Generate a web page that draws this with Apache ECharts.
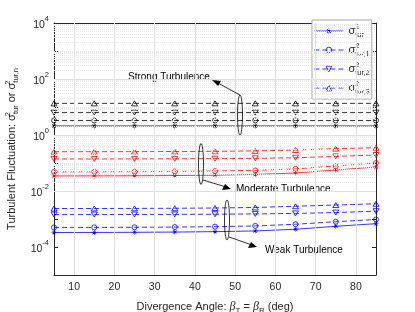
<!DOCTYPE html>
<html><head><meta charset="utf-8">
<script src="https://cdn.jsdelivr.net/npm/echarts@6/dist/echarts.min.js"></script>
<style>html,body{margin:0;padding:0;background:#fff}#c{width:415px;height:312px}</style>
</head><body><div id="c"></div>
<script>
// ---- data ----
const angles = [5, 15, 25, 35, 45, 55, 65, 75, 85];
const xTickValues = [10, 20, 30, 40, 50, 60, 70, 80];
const yLabelExponents = [-4, -2, 0, 2, 4];

const weakTur  = [3.30e-4, 3.31e-4, 3.35e-4, 3.42e-4, 3.53e-4, 3.75e-4, 4.30e-4, 5.50e-4, 6.80e-4];
const weakTur1 = [5.00e-4, 5.00e-4, 5.06e-4, 5.16e-4, 5.32e-4, 5.65e-4, 6.50e-4, 8.00e-4, 9.60e-4];
const weakTur2 = [1.44e-3, 1.44e-3, 1.45e-3, 1.46e-3, 1.48e-3, 1.52e-3, 1.58e-3, 1.70e-3, 1.90e-3];
const weakTur3 = [2.37e-3, 2.37e-3, 2.39e-3, 2.42e-3, 2.47e-3, 2.58e-3, 2.85e-3, 3.15e-3, 3.50e-3];

const modTur  = [0.0345, 0.0346, 0.0350, 0.0357, 0.0368, 0.0390, 0.0440, 0.0560, 0.0720];
const modTur1 = [0.0483, 0.0484, 0.0490, 0.0500, 0.0515, 0.0546, 0.0616, 0.0784, 0.1000];
const modTur2 = [0.139, 0.139, 0.140, 0.141, 0.143, 0.147, 0.154, 0.172, 0.193];
const modTur3 = [0.253, 0.253, 0.255, 0.257, 0.261, 0.270, 0.291, 0.325, 0.352];

const strongTur  = [2.1, 2.1, 2.1, 2.1, 2.1, 2.1, 2.1, 2.1, 2.1];
const strongTur1 = [3.3, 3.3, 3.3, 3.3, 3.3, 3.3, 3.3, 3.3, 3.3];
const strongTur2 = [6.3, 6.3, 6.3, 6.3, 6.3, 6.3, 6.3, 6.3, 6.3];
const strongTur3 = [13.5, 13.5, 13.5, 13.5, 13.5, 13.5, 13.5, 13.5, 13.5];

const legendSubs = ['tur', 'tur,1', 'tur,2', 'tur,3'];

// ---- style ----
const FONT = 'Liberation Sans, Arial, Helvetica, sans-serif';
const TXT = '#262626';
const CLEAR = 'rgba(255,255,255,0)';
const STAR = 'path://M4.5,0h1v10h-1z M0,4.5h10v1h-10z M1.1,1.8l0.7,-0.7l7.1,7.1l-0.7,0.7z M8.2,1.1l0.7,0.7l-7.1,7.1l-0.7,-0.7z';
const markers = [
  {symbol: STAR, size: 5, rotate: 0, dashed: false, hollow: false},
  {symbol: 'circle', size: 5, rotate: 0, dashed: true, hollow: true},
  {symbol: 'triangle', size: [6, 5], rotate: 180, dashed: true, hollow: true},
  {symbol: 'triangle', size: [6, 5], rotate: 0, dashed: true, hollow: true}
];

function pairs(vals) { return angles.map((a, i) => [a, vals[i]]); }

function itemStyleFor(color, m) {
  return m.hollow ? {color: CLEAR, borderColor: color, borderWidth: 0.8} : {color: color};
}

function mk(name, vals, color, m) {
  return {
    name: name, type: 'line', data: pairs(vals), z: 3,
    symbol: m.symbol, symbolSize: m.size, symbolRotate: m.rotate,
    showSymbol: true, animation: false,
    lineStyle: {color: color, width: 0.8, type: m.dashed ? [5, 3] : 'solid'},
    itemStyle: itemStyleFor(color, m),
    emphasis: {disabled: true}
  };
}

const series = [];
const groups = [
  {prefix: 'w', color: '#0000ff', sets: [weakTur, weakTur1, weakTur2, weakTur3]},
  {prefix: 'm', color: '#ff0000', sets: [modTur, modTur1, modTur2, modTur3]},
  {prefix: 's', color: '#000000', sets: [strongTur, strongTur1, strongTur2, strongTur3]}
];
groups.forEach(g => g.sets.forEach((s, i) => series.push(mk(g.prefix + i, s, g.color, markers[i]))));

// grid lines through markLine
const gridLines = [];
xTickValues.forEach(v => gridLines.push({xAxis: v, lineStyle: {color: '#e0e0e0', type: 'solid', width: 1}}));
for (let e = -5; e <= 4; e++) {
  if (e > -5 && e < 4) gridLines.push({yAxis: Math.pow(10, e), lineStyle: {color: (e % 2 === 0) ? '#e0e0e0' : '#e6e6e6', type: (e % 2 === 0) ? 'solid' : [1, 1], width: 1}});
  if (e < 4) for (let k = 2; k <= 9; k++) gridLines.push({yAxis: k * Math.pow(10, e), lineStyle: {color: '#e8e8e8', type: [1, 1], width: 1}});
}
series.unshift({
  name: 'grid', type: 'line', data: [], z: 1, silent: true, animation: false,
  markLine: {silent: true, symbol: ['none', 'none'], label: {show: false}, animation: false, data: gridLines, emphasis: {disabled: true}}
});

const yTickValues = [];
for (let e = -5; e <= 4; e++) yTickValues.push(Math.pow(10, e));
const yLabelValues = yLabelExponents.map(e => Math.pow(10, e));

const sigRich = {
  s: {fontSize: 11, fontFamily: FONT, color: TXT, lineHeight: 16, verticalAlign: 'middle'},
  p: {fontSize: 7.5, fontFamily: FONT, color: TXT, width: 0, lineHeight: 8, verticalAlign: 'top', align: 'left'},
  b: {fontSize: 7.5, fontFamily: FONT, color: TXT, lineHeight: 8, verticalAlign: 'bottom'}
};

const legendData = ['w0', 'w1', 'w2', 'w3'].map((n, i) => ({
  name: n,
  itemStyle: itemStyleFor('#0000ff', markers[i]),
  lineStyle: {color: '#0000ff', width: 0.8, type: markers[i].dashed ? [5, 3] : 'solid'}
}));

const option = {
  backgroundColor: '#ffffff',
  animation: false,
  grid: {left: 54, right: 39, top: 23, bottom: 37, containLabel: false, outerBoundsMode: 'none'},
  xAxis: [{
    type: 'value', min: 5, max: 85, position: 'bottom',
    axisLine: {show: true, onZero: false, lineStyle: {color: TXT, width: 1}},
    axisTick: {show: true, inside: true, length: 4, customValues: xTickValues, lineStyle: {color: TXT}},
    axisLabel: {show: true, customValues: xTickValues, color: TXT, fontSize: 10.5, fontFamily: FONT, margin: 7},
    splitLine: {show: false}, minorTick: {show: false}, minorSplitLine: {show: false},
    name: 'Divergence Angle: {i|β}{sb|T} = {i|β}{sb|R} (deg)',
    nameLocation: 'middle', nameGap: 24,
    nameTextStyle: {color: TXT, fontSize: 11, fontFamily: FONT, lineHeight: 16,
      rich: {i: {fontStyle: 'italic', fontFamily: 'Liberation Serif, serif', fontSize: 12, color: TXT, lineHeight: 16},
             sb: {fontSize: 8, fontFamily: FONT, color: TXT, verticalAlign: 'bottom', lineHeight: 8}}}
  }, {
    type: 'value', min: 5, max: 85, position: 'top',
    axisLine: {show: true, onZero: false, lineStyle: {color: TXT, width: 1}},
    axisTick: {show: true, inside: true, length: 4, customValues: xTickValues, lineStyle: {color: TXT}},
    axisLabel: {show: false}, splitLine: {show: false}
  }],
  yAxis: [{
    type: 'log', logBase: 10, min: 1e-5, max: 1e4, position: 'left',
    axisLine: {show: true, onZero: false, lineStyle: {color: TXT, width: 1}},
    axisTick: {show: true, inside: true, length: 4, customValues: yTickValues, lineStyle: {color: TXT}},
    axisLabel: {show: true, customValues: yLabelValues, margin: 5, color: TXT, fontFamily: FONT,
      formatter: function (v) { const e = Math.round(Math.log10(v)); return '{b|10}{e|' + e + '}'; },
      rich: {b: {fontSize: 10.5, fontFamily: FONT, color: TXT, lineHeight: 16, verticalAlign: 'bottom'},
             e: {fontSize: 7.5, fontFamily: FONT, color: TXT, lineHeight: 8, verticalAlign: 'top'}}},
    splitLine: {show: false}, minorTick: {show: false}, minorSplitLine: {show: false},
    name: 'Turbulent Fluctuation: {s|σ}{p|2}{b|tur} or {s|σ}{p|2}{b|tur,n}',
    nameLocation: 'middle', nameRotate: 90, nameGap: 19,
    nameTextStyle: {color: TXT, fontSize: 11, fontFamily: FONT, lineHeight: 16, rich: sigRich}
  }, {
    type: 'log', logBase: 10, min: 1e-5, max: 1e4, position: 'right',
    axisLine: {show: true, onZero: false, lineStyle: {color: TXT, width: 1}},
    axisTick: {show: true, inside: true, length: 4, customValues: yTickValues, lineStyle: {color: TXT}},
    axisLabel: {show: false}, splitLine: {show: false}, minorTick: {show: false}, minorSplitLine: {show: false}
  }],
  legend: {
    data: legendData,
    orient: 'vertical', left: 312, top: 20,
    backgroundColor: '#ffffff', borderColor: '#a6a6a6', borderWidth: 1,
    padding: [3, 2, 3, 2], itemGap: 3, itemWidth: 29, itemHeight: 7,
    selectedMode: false,
    textStyle: {color: TXT, fontFamily: FONT, fontSize: 11, rich: sigRich},
    formatter: function (name) { const i = +name.slice(1); return '{s|σ}{p|2}{b|' + legendSubs[i] + '}'; }
  },
  graphic: [
    {type: 'text', left: 128, top: 72, style: {text: 'Strong Turbulence', font: '10px ' + FONT, fill: '#000'}},
    {type: 'ellipse', shape: {cx: 240, cy: 115, rx: 2.5, ry: 20}, style: {fill: 'none', stroke: '#000', lineWidth: 0.8}, z: 10},
    {type: 'line', shape: {x1: 240, y1: 95, x2: 216, y2: 82}, style: {stroke: '#000', lineWidth: 0.8}, z: 10},
    {type: 'polygon', shape: {points: [[212, 80], [221, 81], [218, 86]]}, style: {fill: '#000'}, z: 10},

    {type: 'text', left: 236, top: 184, style: {text: 'Moderate Turbulence', font: '10px ' + FONT, fill: '#000'}},
    {type: 'ellipse', shape: {cx: 201, cy: 164, rx: 2.5, ry: 20.5}, style: {fill: 'none', stroke: '#000', lineWidth: 0.8}, z: 10},
    {type: 'line', shape: {x1: 203, y1: 180, x2: 226, y2: 187}, style: {stroke: '#000', lineWidth: 0.8}, z: 10},
    {type: 'polygon', shape: {points: [[231, 189], [222, 190], [225, 184]]}, style: {fill: '#000'}, z: 10},

    {type: 'text', left: 265, top: 245, style: {text: 'Weak Turbulence', font: '10px ' + FONT, fill: '#000'}},
    {type: 'ellipse', shape: {cx: 227, cy: 220, rx: 2.5, ry: 20}, style: {fill: 'none', stroke: '#000', lineWidth: 0.8}, z: 10},
    {type: 'line', shape: {x1: 229, y1: 237, x2: 252, y2: 245}, style: {stroke: '#000', lineWidth: 0.8}, z: 10},
    {type: 'polygon', shape: {points: [[257, 247], [248, 248], [251, 242]]}, style: {fill: '#000'}, z: 10}
  ],
  series: series
};

const chart = echarts.init(document.getElementById('c'), null, {renderer: 'canvas'});
chart.setOption(option);
</script></body></html>
